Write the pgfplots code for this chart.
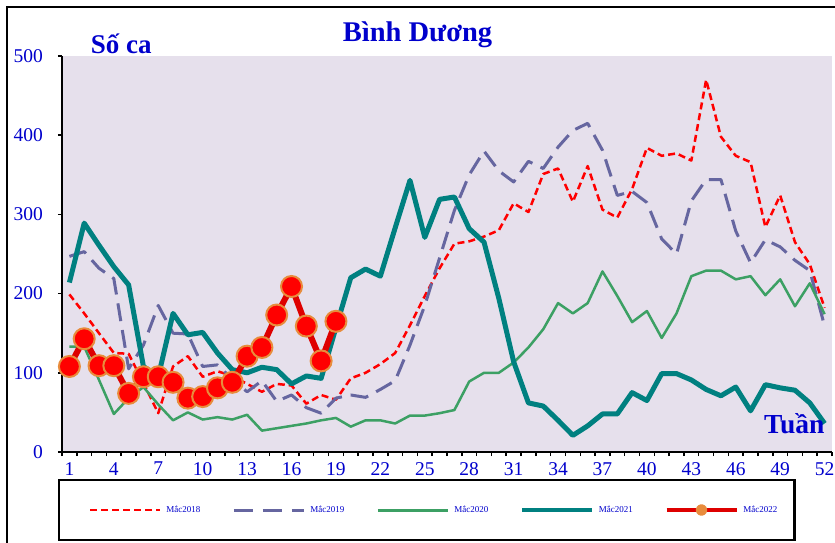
\documentclass[border=0pt]{standalone}
\usepackage{fontspec}
\setmainfont{Liberation Serif}
\usepackage{pgfplots}
\usepackage{pgfplotstable}
\pgfplotsset{compat=1.18}
\definecolor{tblue}{RGB}{0,0,204}
\definecolor{bgl}{RGB}{230,224,236}
\definecolor{c18}{RGB}{255,0,0}
\definecolor{c19}{RGB}{102,102,160}
\definecolor{c20}{RGB}{60,160,100}
\definecolor{c21}{RGB}{0,128,128}
\definecolor{c22}{RGB}{222,0,0}
\definecolor{mkedge}{RGB}{232,140,60}

\pgfplotstableread{
w y18 y19 y20 y21
1 199 247 133 214
2 175 253 133 289
3 150 232 91 261
4 125 219 48 234
5 124 105 68 211
6 87 135 82 108
7 49 185 60 95
8 108 150 40 175
9 121 149 50 148
10 95 108 41 151
11 102 110 44 125
12 96 92 41 104
13 86 76 47 100
14 76 90 27 107
15 86 64 30 104
16 84 72 33 86
17 61 56 36 96
18 72 49 40 93
19 66 68 43 157
20 93 72 32 220
21 100 69 40 231
22 111 79 40 222
23 125 90 36 283
24 160 135 46 343
25 197 185 46 271
26 232 245 49 319
27 263 305 53 322
28 266 350 89 282
29 272 380 100 265
30 280 355 100 194
31 314 341 113 114
32 303 367 132 62
33 351 358 155 58
34 358 385 188 40
35 316 406 175 21
36 361 415 188 33
37 306 381 228 48
38 296 324 197 48
39 332 329 164 75
40 384 315 178 65
41 374 269 144 99
42 377 250 175 99
43 368 317 222 91
44 470 344 229 79
45 398 344 229 71
46 374 279 218 82
47 366 239 222 52
48 284 268 198 85
49 324 259 218 81
50 265 242 184 78
51 237 229 213 62
52 182 159 174 36
}\datatab

\pgfplotstableread{
w y22
1 108
2 143
3 109
4 109
5 74
6 95
7 95
8 88
9 68
10 70
11 81
12 88
13 121
14 132
15 173
16 209
17 159
18 115
19 165
}\datatabb

\begin{document}
\begin{tikzpicture}
\useasboundingbox (0pt,0pt) rectangle (835pt,542pt);
\draw[line width=2.5pt] (7pt,-20pt) -- (7pt,535pt) -- (860pt,535pt);
\begin{axis}[
  at={(62pt,90pt)}, anchor=south west,
  scale only axis, width=770pt, height=396pt,
  xmin=0.5, xmax=52.5, ymin=0, ymax=500,
  axis x line*=bottom, axis y line*=left,
  axis line style={line width=2pt, black, -},
  axis background/.style={fill=bgl},
  clip=false,
  tick align=outside,
  major tick length=4pt,
  tick style={black, line width=1.5pt},
  ytick={0,100,...,500},
  xtick={0.5,1.5,...,52.5},
  xticklabels={},
  extra x ticks={1,4,...,52},
  extra x tick labels={1,4,7,10,13,16,19,22,25,28,31,34,37,40,43,46,49,52},
  extra x tick style={major tick length=0pt},
  ticklabel style={font=\fontsize{19.5}{20}\selectfont, text=tblue},
  /pgf/number format/assume math mode=true,
  yticklabel style={anchor=east, inner sep=0pt, xshift=-15pt},
  xticklabel style={anchor=north, inner sep=0pt, yshift=-10pt},
  legend columns=5,
  legend cell align=left,
  legend style={at={(0.4734,-0.1465)}, anchor=center, draw=black, line width=2.5pt,
    fill=white, inner xsep=17pt, inner ysep=24pt,
    font=\fontsize{9}{9}\selectfont,
    nodes={text=tblue, inner sep=0pt},
    /tikz/every even column/.append style={column sep=32pt},
    /tikz/every odd column/.append style={column sep=5pt}},
]
\addplot[c18, line width=2.5pt, dash pattern=on 7pt off 4pt, line join=round,
  legend image code/.code={\path (-13pt,0pt); \draw[c18, line width=2.5pt, dash pattern=on 7pt off 4pt] (0pt,0pt) -- (70pt,0pt);}]
  table[x=w, y=y18] {\datatab};
\addlegendentry{Mắc2018}
\addplot[c19, line width=3pt, dash pattern=on 18pt off 9pt, line join=round,
  legend image code/.code={\draw[c19, line width=3pt, dash pattern=on 19pt off 10pt] (0pt,0pt) -- (70pt,0pt);}]
  table[x=w, y=y19] {\datatab};
\addlegendentry{Mắc2019}
\addplot[c20, line width=2.5pt, line join=round,
  legend image code/.code={\draw[c20, line width=3pt] (0pt,0pt) -- (70pt,0pt);}]
  table[x=w, y=y20] {\datatab};
\addlegendentry{Mắc2020}
\addplot[c21, line width=5pt, line join=round,
  legend image code/.code={\draw[c21, line width=3.5pt] (0pt,0pt) -- (70pt,0pt);}]
  table[x=w, y=y21] {\datatab};
\addlegendentry{Mắc2021}
\addplot[c22, line width=6pt, line join=round, mark=*, mark size=10.5pt,
  mark options={fill=red, draw=mkedge, line width=2pt, solid},
  legend image code/.code={\draw[c22, line width=3.5pt] (0pt,0pt) -- (70pt,0pt); \fill[mkedge] (35pt,0pt) circle (2.8pt);}]
  table[x=w, y=y22] {\datatabb};
\addlegendentry{Mắc2022}
\end{axis}
\node[anchor=base west, text=tblue, font=\fontsize{28.5}{28.5}\selectfont\bfseries, inner sep=0pt] at (342.7pt,500.3pt) {Bình Dương};
\node[anchor=base west, text=tblue, font=\fontsize{27}{27}\selectfont\bfseries, inner sep=0pt] at (90.7pt,488.7pt) {Số ca};
\node[anchor=base west, text=tblue, font=\fontsize{27.5}{27.5}\selectfont\bfseries, inner sep=0pt] at (764pt,108.7pt) {Tuần};
\end{tikzpicture}
\end{document}
